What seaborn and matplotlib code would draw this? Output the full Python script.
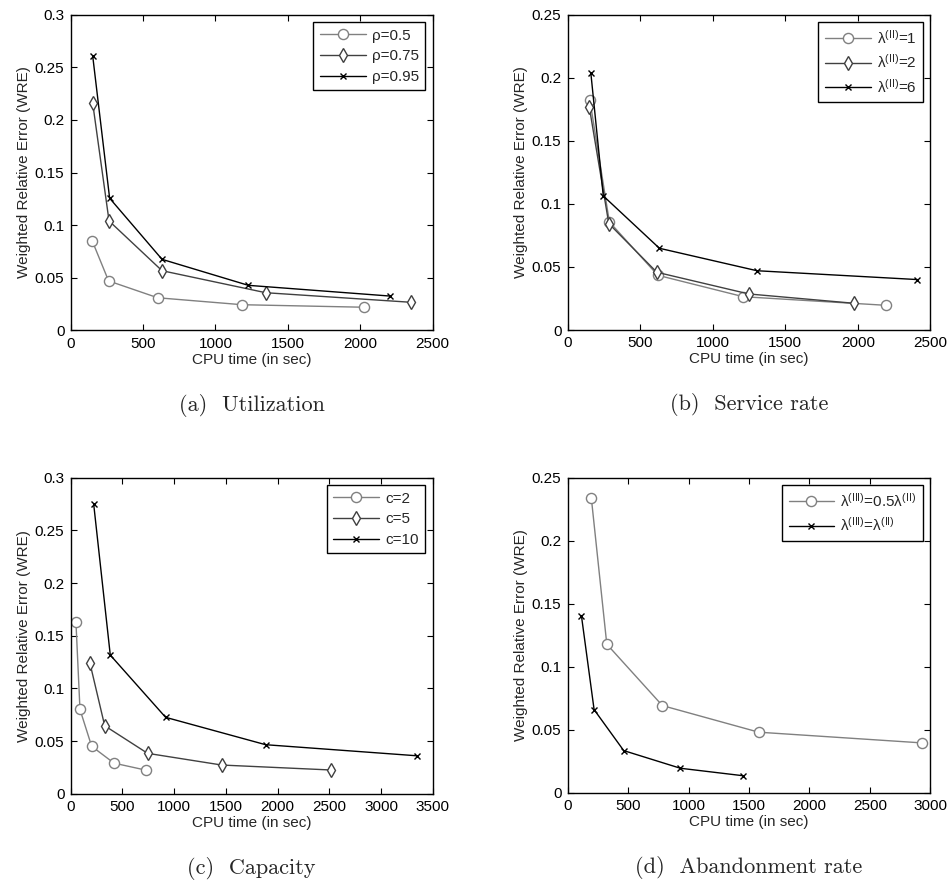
import matplotlib
matplotlib.use("Agg")
import matplotlib.pyplot as plt
import seaborn as sns

# (a) Utilization
a_cpu_05 = [149, 262, 601, 1183, 2024]
a_wre_05 = [0.085, 0.047, 0.031, 0.0244, 0.022]
a_cpu_075 = [152, 265, 631, 1347, 2350]
a_wre_075 = [0.216, 0.104, 0.0567, 0.0358, 0.0267]
a_cpu_095 = [152, 269, 631, 1227, 2207]
a_wre_095 = [0.261, 0.1256, 0.0675, 0.0428, 0.0326]

# (b) Service rate
b_cpu_1 = [152, 287, 621, 1211, 2193]
b_wre_1 = [0.1825, 0.0857, 0.0434, 0.0264, 0.0196]
b_cpu_2 = [149, 283, 614, 1248, 1974]
b_wre_2 = [0.1764, 0.0844, 0.0458, 0.0286, 0.0212]
b_cpu_6 = [159, 245, 632, 1305, 2411]
b_wre_6 = [0.204, 0.1063, 0.0648, 0.047, 0.040]

# (c) Capacity
c_cpu_2 = [51, 90, 203, 419, 725]
c_wre_2 = [0.163, 0.080, 0.045, 0.029, 0.0224]
c_cpu_5 = [187, 329, 744, 1460, 2514]
c_wre_5 = [0.1237, 0.0645, 0.0383, 0.0272, 0.0225]
c_cpu_10 = [222, 383, 918, 1885, 3345]
c_wre_10 = [0.2755, 0.1316, 0.0725, 0.0465, 0.036]

# (d) Abandonment rate
d_cpu_half = [195, 323, 783, 1580, 2932]
d_wre_half = [0.234, 0.118, 0.0693, 0.0482, 0.0397]
d_cpu_eq = [113, 218, 463, 932, 1448]
d_wre_eq = [0.1407, 0.0661, 0.0336, 0.0196, 0.0137]

sns.set_style("ticks")
plt.rcParams["font.family"] = ["Liberation Sans", "DejaVu Sans"]
plt.rcParams["mathtext.fontset"] = "custom"
plt.rcParams["mathtext.rm"] = "Liberation Sans"
plt.rcParams["mathtext.it"] = "Liberation Sans:italic"
plt.rcParams["xtick.direction"] = "in"
plt.rcParams["ytick.direction"] = "in"
plt.rcParams["xtick.top"] = True
plt.rcParams["ytick.right"] = True

GRAY = "#808080"
DARK = "#404040"
styles = {
    "o": dict(color=GRAY, marker="o", markersize=7.3, markerfacecolor="white",
              markeredgecolor=GRAY, markeredgewidth=1.0),
    "d": dict(color=DARK, marker="d", markersize=7.0, markerfacecolor="white",
              markeredgecolor=DARK, markeredgewidth=1.0),
    "x": dict(color="black", marker="x", markersize=5.0, markeredgecolor="black",
              markeredgewidth=1.0),
}

fig = plt.figure(figsize=(9.51, 8.86), dpi=100)
ax_a = fig.add_axes([0.0743, 0.6271, 0.3807, 0.3564])
ax_b = fig.add_axes([0.597, 0.6275, 0.3813, 0.356])
ax_c = fig.add_axes([0.0743, 0.1042, 0.3807, 0.3566])
ax_d = fig.add_axes([0.597, 0.105, 0.3813, 0.3558])

panels = [
    (ax_a, [(a_cpu_05, a_wre_05, "o", "ρ=0.5"),
            (a_cpu_075, a_wre_075, "d", "ρ=0.75"),
            (a_cpu_095, a_wre_095, "x", "ρ=0.95")],
     2500, 0.3, [0, 500, 1000, 1500, 2000, 2500], "(a)  Utilization"),
    (ax_b, [(b_cpu_1, b_wre_1, "o", "λ$^{\\rm (II)}$=1"),
            (b_cpu_2, b_wre_2, "d", "λ$^{\\rm (II)}$=2"),
            (b_cpu_6, b_wre_6, "x", "λ$^{\\rm (II)}$=6")],
     2500, 0.25, [0, 500, 1000, 1500, 2000, 2500], "(b)  Service rate"),
    (ax_c, [(c_cpu_2, c_wre_2, "o", "c=2"),
            (c_cpu_5, c_wre_5, "d", "c=5"),
            (c_cpu_10, c_wre_10, "x", "c=10")],
     3500, 0.3, [0, 500, 1000, 1500, 2000, 2500, 3000, 3500], "(c)  Capacity"),
    (ax_d, [(d_cpu_half, d_wre_half, "o", "λ$^{\\rm (III)}$=0.5λ$^{\\rm (II)}$"),
            (d_cpu_eq, d_wre_eq, "x", "λ$^{\\rm (III)}$=λ$^{\\rm (II)}$")],
     3000, 0.25, [0, 500, 1000, 1500, 2000, 2500, 3000], "(d)  Abandonment rate"),
]

for ax, series, xmax, ymax, xt, caption in panels:
    for xs, ys, mk, lab in series:
        sns.lineplot(x=xs, y=ys, ax=ax, label=lab, linewidth=1.0, **styles[mk])
    ax.set_xlim(0, xmax)
    ax.set_ylim(0, ymax)
    ax.set_xticks(xt)
    yt = [round(i * 0.05, 2) for i in range(int(round(ymax / 0.05)) + 1)]
    ax.set_yticks(yt)
    ax.set_yticklabels(["0" if v == 0 else ("%g" % v) for v in yt])
    ax.tick_params(labelsize=11, length=4, width=0.8, pad=4.5, colors="black")
    for s in ax.spines.values():
        s.set_linewidth(1.0)
        s.set_color("black")
    ax.set_xlabel("CPU time (in sec)", fontsize=11, labelpad=1.5)
    ax.set_ylabel("Weighted Relative Error (WRE)", fontsize=11, labelpad=3)
    leg = ax.legend(loc="upper right", fontsize=11, fancybox=False,
                    framealpha=1, edgecolor="black", handlelength=3.0,
                    borderaxespad=0.49, labelspacing=0.44, handletextpad=0.4,
                    borderpad=0.42)
    leg.get_frame().set_linewidth(1.0)
    ax.text(0.5, -0.2, caption, transform=ax.transAxes, ha="center",
            va="top", fontsize=16, family="cmr10")

fig.savefig("out.png", dpi=100)
